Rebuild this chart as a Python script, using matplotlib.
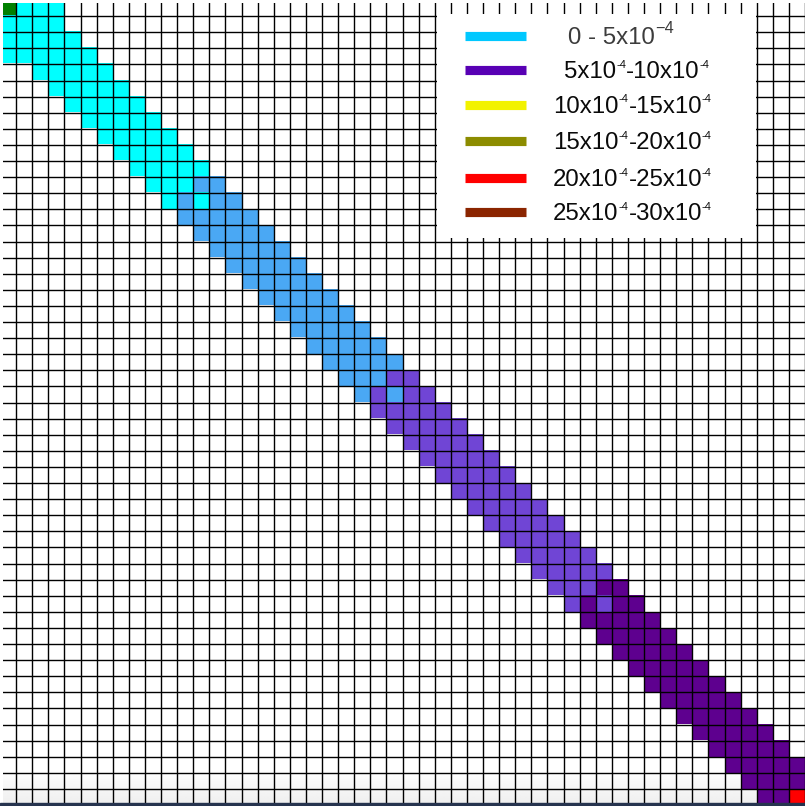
import numpy as np
import matplotlib
matplotlib.use("Agg")
import matplotlib.pyplot as plt
from matplotlib.colors import to_rgba
from matplotlib.patches import Rectangle

plt.rcParams['font.family'] = ['Liberation Sans', 'DejaVu Sans']

N = 50
CELL = 16.1  # px per cell

# band of the matrix: (first column, colour code per cell) for each row
band_rows = [
    (0, "gccc"), (0, "cccc"), (0, "ccccc"), (0, "cccccc"),
    (2, "ccccc"), (3, "ccccc"), (4, "ccccc"), (5, "ccccc"),
    (6, "ccccc"), (7, "ccccc"), (8, "ccccc"), (9, "cccbb"),
    (10, "cbcbb"), (11, "bbbbb"), (12, "bbbbb"), (13, "bbbbb"),
    (14, "bbbbb"), (15, "bbbbb"), (16, "bbbbb"), (17, "bbbbb"),
    (18, "bbbbb"), (19, "bbbbb"), (20, "bbbbb"), (21, "bbbmm"),
    (22, "bmbmm"), (23, "mmmmm"), (24, "mmmmm"), (25, "mmmmm"),
    (26, "mmmmm"), (27, "mmmmm"), (28, "mmmmm"), (29, "mmmmm"),
    (30, "mmmmm"), (31, "mmmmm"), (32, "mmmmm"), (33, "mmmmm"),
    (34, "mmmpp"), (35, "mpmpp"), (36, "ppppp"), (37, "ppppp"),
    (38, "ppppp"), (39, "ppppp"), (40, "ppppp"), (41, "ppppp"),
    (42, "ppppp"), (43, "ppppp"), (44, "ppppp"), (45, "ppppp"),
    (46, "pppp"), (47, "ppr"),
]

cell_colors = {
    'g': '#008000',
    'c': '#00FFFF',
    'b': '#4AA8F4',
    'm': '#7045D5',
    'p': '#5E008F',
    'r': '#FF0000',
}

legend_colors = ['#00C8FF', '#5800B4', '#F2F200', '#8C8C00', '#FF0000', '#8B2500']
legend_labels = [
    [("0 - 5x10", 'n'), ("\u22124", 'big')],
    [("5x10", 'n'), ("-4", 's'), ("-10x10", 'n'), ("-4", 's')],
    [("10x10", 'n'), ("-4", 's'), ("-15x10", 'n'), ("-4", 's')],
    [("15x10", 'n'), ("-4", 's'), ("-20x10", 'n'), ("-4", 's')],
    [("20x10", 'n'), ("-4", 's'), ("-25x10", 'n'), ("-4", 's')],
    [("25x10", 'n'), ("-4", 's'), ("-30x10", 'n'), ("-4", 's')],
]


def main():
    W, H = 805, 806
    fig = plt.figure(figsize=(W / 100, H / 100), dpi=100)
    ax = fig.add_axes([3 / W, 0, (W - 3) / W, (H - 3) / H])

    rgba = np.zeros((N, N, 4))
    for i, (start, codes) in enumerate(band_rows):
        for k, c in enumerate(codes):
            rgba[i, start + k] = to_rgba(cell_colors[c])

    # faint shading at the very bottom of the screenshot
    grad = np.linspace(1.0, 0.935, 64)[:, None] * np.ones((64, 2))
    ax.imshow(grad, cmap='gray', vmin=0, vmax=1, extent=(0, N, H / CELL - 0.15, 770 / CELL),
              aspect='auto', interpolation='bilinear', zorder=0)
    ax.imshow(rgba, extent=(0, N, N, 0), aspect='auto', interpolation='nearest', zorder=1)

    for k in range(1, N + 1):
        ax.axvline(k, color='k', lw=1.0, zorder=2)
        ax.axhline(k, color='k', lw=1.0, zorder=2)

    ax.set_xlim(3 / CELL, N)
    ax.set_ylim(H / CELL, 3 / CELL)
    ax.set_axis_off()

    # legend box, drawn in pixel units
    lx0, lx1, ly0, ly1 = 437, 756, 14, 238
    lax = fig.add_axes([lx0 / W, 1 - ly1 / H, (lx1 - lx0) / W, (ly1 - ly0) / H])
    lax.set_xlim(lx0, lx1)
    lax.set_ylim(ly1, ly0)
    lax.set_facecolor('white')
    lax.set_xticks([])
    lax.set_yticks([])
    for s in lax.spines.values():
        s.set_visible(False)

    line_y = [35.5, 70, 104.7, 140.8, 178, 212]
    text_x = [568, 564, 553, 553, 553, 553]
    styles = {'n': (17.3, 0), 's': (8.0, 10.2), 'big': (11.8, 10.8)}
    renderer = fig.canvas.get_renderer()
    for n in range(6):
        lax.plot([465, 526], [line_y[n], line_y[n]], color=legend_colors[n],
                 lw=6.6, solid_capstyle='butt')
        x = text_x[n]
        base = line_y[n] + 8
        col = '#3c3c3c' if n == 0 else '#0a0a0a'
        for s, kind in legend_labels[n]:
            size, dy = styles[kind]
            t = lax.text(x, base - dy, s, fontsize=size, va='baseline', ha='left', color=col)
            x += t.get_window_extent(renderer).width

    # dark window edge along the bottom
    fig.add_artist(Rectangle((0, 0), 1, 3 / H, transform=fig.transFigure,
                             color='#26344f', zorder=10))

    fig.savefig("out.png", dpi=100)


if __name__ == "__main__":
    main()
